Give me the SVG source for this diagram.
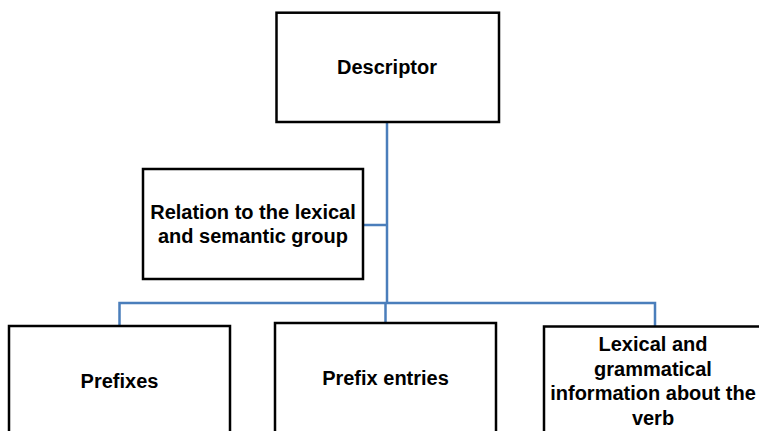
<svg xmlns="http://www.w3.org/2000/svg" width="759" height="431" viewBox="0 0 759 431">
  <style>
    .box { fill: #ffffff; stroke: #000000; stroke-width: 2.5; }
    .lbl { font-family: "Liberation Sans", Arial, sans-serif; font-weight: bold; font-size: 20px; fill: #000000; text-anchor: middle; }
    .conn { stroke: #4a7ebb; stroke-width: 2.5; fill: none; }
  </style>
  <rect width="759" height="431" fill="#ffffff"/>
  <g id="connectors">
    <line class="conn" x1="387" y1="122" x2="387" y2="304"/>
    <line class="conn" x1="363" y1="225" x2="387" y2="225"/>
    <polyline class="conn" points="119.5,326 119.5,303 655,303 655,326"/>
    <line class="conn" x1="385.5" y1="303" x2="385.5" y2="323"/>
  </g>
  <g id="descriptor">
    <rect class="box" x="276.5" y="12.7" width="222.5" height="109.3"/>
    <text class="lbl" x="387" y="74">Descriptor</text>
  </g>
  <g id="relation">
    <rect class="box" x="143" y="169" width="220" height="110"/>
    <text class="lbl" x="253" y="219">Relation to the lexical</text>
    <text class="lbl" x="253" y="243">and semantic group</text>
  </g>
  <g id="prefixes">
    <rect class="box" x="9" y="326" width="221" height="120"/>
    <text class="lbl" x="119.5" y="388">Prefixes</text>
  </g>
  <g id="prefix-entries">
    <rect class="box" x="275" y="323" width="221" height="120"/>
    <text class="lbl" x="385.5" y="385">Prefix entries</text>
  </g>
  <g id="lexical-grammatical">
    <rect class="box" x="544" y="326.5" width="222" height="120"/>
    <text class="lbl" x="653" y="351">Lexical and</text>
    <text class="lbl" x="653" y="376">grammatical</text>
    <text class="lbl" x="653" y="400">information about the</text>
    <text class="lbl" x="653" y="425">verb</text>
  </g>
</svg>
